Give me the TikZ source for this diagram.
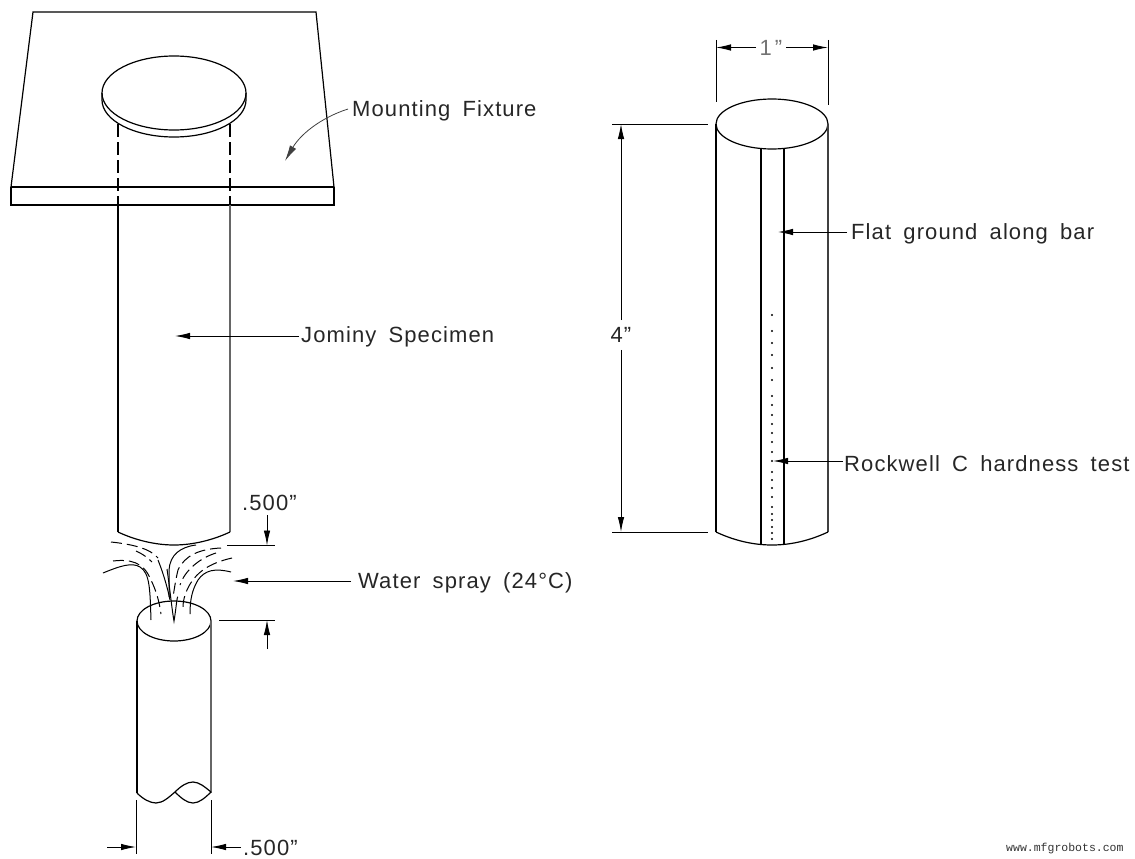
\documentclass[tikz,border=0pt]{standalone}
\usepackage{fontspec}
\setmainfont{Liberation Sans}
\newfontfamily\lblfont[LetterSpace=5,WordSpace=1.7]{Liberation Sans}
\newfontfamily\wmfont{Liberation Mono}
\usetikzlibrary{arrows.meta}
\tikzset{
  x=1pt,y=-1pt,
  heavy/.style={line width=1.9pt,black},
  medium/.style={line width=1.2pt,black},
  edgegray/.style={line width=1.7pt,black!60},
  thin line/.style={line width=0.9pt,black},
  leader/.style={line width=0.9pt,black,-{Latex[length=15pt,width=6.5pt]}},
  lbl/.style={font=\lblfont\fontsize{22}{24}\selectfont,inner sep=0pt,anchor=west,text=black!85},
  spray/.style={line width=1pt,black},
  spraydash/.style={line width=1pt,black,dash pattern=on 11pt off 5pt},
}
\begin{document}
\begin{tikzpicture}
\useasboundingbox (0,0) rectangle (1135,859);
% --- mounting fixture
\draw[medium,line join=miter] (11,187) -- (33,12) -- (316,12) -- (334,187);
\draw[medium] (11,187) -- (334,187);
\draw[heavy] (11,187) -- (11,205) -- (334,205) -- (334,187);
% disc
\draw[medium] (174,93) ellipse [x radius=72,y radius=37];
\draw[medium] (102,93) -- (102,100) arc [start angle=180,end angle=360,x radius=72,y radius=-37] -- (246,93);
% specimen
\draw[heavy,dash pattern=on 13pt off 5pt] (118,124) -- (118,205);
\draw[heavy,dash pattern=on 13pt off 5pt] (230,124) -- (230,205);
\draw[heavy] (118,205) -- (118,532);
\draw[edgegray] (230,205) -- (230,532);
\draw[medium] (118,532) .. controls (135,540) and (155,545) .. (174,545) .. controls (193,545) and (213,540) .. (230,532);
% spray
\draw[spray] (103,573) .. controls (120,566) and (132,562) .. (140,567) .. controls (150,573) and (150,590) .. (151,620);
\draw[spray] (231,572) .. controls (215,568) and (205,570) .. (198,580) .. controls (192,590) and (190,600) .. (190,614);
\draw[spray] (196,545) .. controls (180,547) and (170,555) .. (169,570) -- (169,597);
\draw[spray] (158,560) .. controls (164,575) and (168,590) .. (170,600);
\draw[spray] (167,569) .. controls (170,590) and (172,610) .. (174,621) .. controls (176,610) and (177,595) .. (178,597);
\draw[spraydash] (111,542) .. controls (130,544) and (150,548) .. (158,558);
\draw[spraydash] (221,548) .. controls (200,549) and (185,555) .. (178,570) .. controls (176,578) and (174,590) .. (173,598);
\draw[spraydash] (113,561) .. controls (130,559) and (143,562) .. (150,578) .. controls (156,590) and (159,600) .. (161,614);
\draw[spraydash] (232,558) .. controls (210,563) and (195,572) .. (187,590) .. controls (185,595) and (183,600) .. (183,607);
\draw[spraydash] (136,551) .. controls (145,555) and (150,560) .. (152,562);
\draw[spraydash] (216,553) .. controls (200,558) and (185,570) .. (180,585);
% lower bar
\draw[medium] (174,621) ellipse [x radius=37,y radius=20];
\draw[heavy] (137,621) -- (137,793);
\draw[edgegray] (211,621) -- (211,793);
\draw[medium] (137,793) .. controls (143,799) and (150,803) .. (156,803) .. controls (163,803) and (169,797) .. (175,792) .. controls (181,786) and (187,782) .. (193,782) .. controls (199,782) and (205,787) .. (211,792);
\draw[medium] (175,792) .. controls (181,798) and (187,803) .. (193,803) .. controls (199,803) and (205,798) .. (211,792);
% dimension .500 top
\node[lbl] (dimtop) at (242,503) {.500”};
\coordinate (ta) at (267,515);
\coordinate (tb) at (267,545.5);
\draw[thin line] (227,545.5) -- (275,545.5);
\draw[leader] (ta) -- (tb);
\draw[thin line] (219,620) -- (275,620);
\coordinate (tc) at (267,649);
\coordinate (td) at (267,620);
\draw[leader] (tc) -- (td);
% dimension .500 bottom
\draw[thin line] (136,800) -- (136,854);
\draw[thin line] (211,800) -- (211,854);
\coordinate (ba) at (107,847);
\coordinate (bb) at (136,847);
\coordinate (bc) at (241,847);
\coordinate (bd) at (211,847);
\draw[leader] (ba) -- (bb);
\draw[leader] (bc) -- (bd);
\node[lbl] (dimbot) at (243,848) {.500”};
% labels left
\node[lbl] (mount) at (352,111) {Mounting Fixture};
\coordinate (mtip) at (285,161);
\draw[line width=0.8pt,black!75,-{Latex[length=16pt,width=7pt]}] (mount.west) ++(-4,-2) .. controls (320,118) and (300,135) .. (mtip);
\node[lbl] (jom) at (301,337) {Jominy Specimen};
\coordinate (jtip) at (175,336);
\draw[leader] (jom.west) ++(-2,-1) -- (jtip);
\node[lbl] (water) at (358,583) {Water spray (24°C)};
\coordinate (wtip) at (233,581);
\draw[leader] (water.west) ++(-7,-2) -- (wtip);
% right cylinder
\draw[medium] (772,124) ellipse [x radius=56,y radius=25];
\draw[heavy] (716,124) -- (716,532);
\draw[line width=1.1pt,black!75] (828,124) -- (828,532);
\draw[medium] (716,532) .. controls (733,540) and (752,545) .. (772,545) .. controls (792,545) and (811,540) .. (828,532);
\draw[heavy] (761,148) -- (761,545);
\draw[heavy] (784,148) -- (784,545);
\foreach \yy in {315,331,343,355,368,380,396,405,415,424,433,442,452,461,472,480,488,497,507,514,520,527,533,539}
  \fill (772,\yy) circle (1.1pt);
% dimension 1"
\draw[thin line] (716,40) -- (716,102);
\draw[thin line] (828,40) -- (828,105);
\node[lbl,anchor=center,text=black!55] (one) at (771,48) {1\kern3pt”};
\coordinate (oa) at (716,47.5);
\coordinate (ob) at (828,47.5);
\draw[leader] (756,47.5) -- (oa);
\draw[leader] (786,47.5) -- (ob);
% dimension 4"
\draw[thin line] (612,124) -- (708,124);
\draw[thin line] (612,532) -- (708,532);
\node[lbl,anchor=center] (four) at (621,335) {4”};
\coordinate (fa) at (621,124);
\coordinate (fb) at (621,532);
\draw[leader] (four.north) ++(0,-7) -- (fa);
\draw[leader] (four.south) ++(0,7) -- (fb);
% right labels
\node[lbl] (flat) at (851,234) {Flat ground along bar};
\coordinate (ftip) at (778,232);
\draw[leader] (flat.west) ++(-4,-2) -- (ftip);
\node[lbl] (rock) at (844,464) {Rockwell C hardness test};
\coordinate (rtip) at (773,461);
\draw[leader] (rock.west) ++(-1,-3) -- (rtip);
% watermark
\node[font=\wmfont\fontsize{11.5}{12}\selectfont,inner sep=0pt,anchor=west,text=black!80] (wm) at (1006,849) {www.mfgrobots.com};
\end{tikzpicture}
\end{document}
